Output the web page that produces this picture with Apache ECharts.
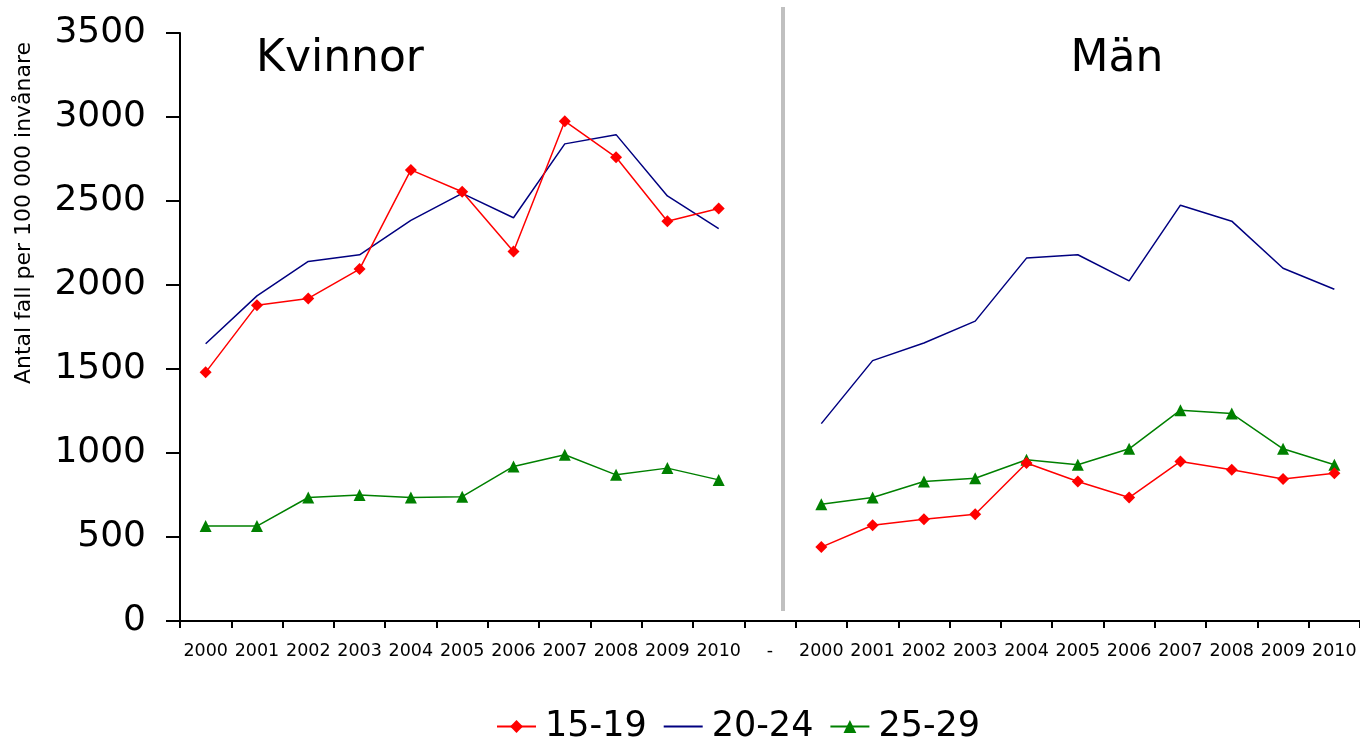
<!DOCTYPE html>
<html>
<head>
<meta charset="utf-8">
<script src="https://cdn.jsdelivr.net/npm/echarts@6/dist/echarts.min.js"></script>
<style>
    html, body { margin: 0; padding: 0; background: #fff; }
    #chart { width: 1360px; height: 739px; }
</style>
</head>
<body>
<div id="chart"></div>
<script>
    // år per panel, "-" är luckan mellan Kvinnor och Män
    var years = ['2000', '2001', '2002', '2003', '2004', '2005', '2006', '2007', '2008', '2009', '2010'];
    var categories = years.concat(['-'], years);

    var kvinnor1519 = [1480, 1880, 1920, 2095, 2685, 2555, 2200, 2975, 2760, 2380, 2455];
    var kvinnor2024 = [1650, 1935, 2140, 2180, 2385, 2545, 2400, 2840, 2895, 2530, 2335];
    var kvinnor2529 = [565, 565, 735, 750, 735, 740, 920, 990, 870, 910, 840];

    var man1519 = [440, 570, 605, 635, 940, 830, 735, 950, 900, 845, 880];
    var man2024 = [1175, 1550, 1655, 1785, 2160, 2180, 2025, 2475, 2380, 2100, 1975];
    var man2529 = [695, 735, 830, 850, 960, 930, 1025, 1255, 1235, 1025, 930];

    var yTicks = [0, 500, 1000, 1500, 2000, 2500, 3000, 3500];

    function join(k, m) {
        return k.concat([null], m);
    }

    var font = 'DejaVu Sans, Verdana, sans-serif';
    var myChart = echarts.init(document.getElementById('chart'));

    var option = {
        backgroundColor: '#fff',
        animation: false,
        grid: {
            left: 180,
            top: 33,
            width: 1182,
            height: 588
        },
        legend: {
            left: 491,
            top: 704,
            itemWidth: 39,
            itemHeight: 16,
            itemGap: 16,
            textStyle: {
                fontFamily: font,
                fontSize: 35,
                color: '#000',
                padding: [0, 0, 0, 4]
            },
            data: [
                '15-19',
                { name: '20-24', itemStyle: { opacity: 0 } },
                '25-29'
            ]
        },
        xAxis: {
            type: 'category',
            data: categories,
            boundaryGap: true,
            axisLine: { lineStyle: { color: '#000', width: 2 } },
            axisTick: { show: true, length: 7, lineStyle: { color: '#000', width: 2 } },
            axisLabel: {
                interval: 0,
                margin: 21,
                fontFamily: font,
                fontSize: 17.5,
                color: '#000'
            },
            splitLine: { show: false }
        },
        yAxis: {
            type: 'value',
            min: yTicks[0],
            max: yTicks[yTicks.length - 1],
            interval: 500,
            axisLine: { show: true, lineStyle: { color: '#000', width: 2 } },
            axisTick: { show: true, inside: false, length: 14, lineStyle: { color: '#000', width: 2 } },
            axisLabel: {
                margin: 34,
                fontFamily: font,
                fontSize: 36,
                color: '#000',
                formatter: function (v) { return String(v); }
            },
            splitLine: { show: false }
        },
        graphic: [
            {
                type: 'rect',
                shape: { x: 781, y: 7, width: 4, height: 604 },
                style: { fill: '#c0c0c0' },
                z: 0
            },
            {
                type: 'text',
                x: 340, y: 60,
                style: {
                    text: 'Kvinnor', fontFamily: font, fontSize: 44, fill: '#000',
                    textAlign: 'center', textVerticalAlign: 'middle'
                }
            },
            {
                type: 'text',
                x: 1117, y: 60,
                style: {
                    text: 'Män', fontFamily: font, fontSize: 44, fill: '#000',
                    textAlign: 'center', textVerticalAlign: 'middle'
                }
            },
            {
                type: 'text',
                x: 24, y: 213,
                rotation: Math.PI / 2,
                style: {
                    text: 'Antal fall per 100 000 invånare', fontFamily: font, fontSize: 22, fill: '#000',
                    textAlign: 'center', textVerticalAlign: 'middle'
                }
            }
        ],
        series: [
            {
                name: '15-19',
                type: 'line',
                data: join(kvinnor1519, man1519),
                color: '#ff0000',
                symbol: 'diamond',
                symbolSize: 12,
                showAllSymbol: true,
                lineStyle: { width: 1.5 },
                z: 3
            },
            {
                name: '20-24',
                type: 'line',
                data: join(kvinnor2024, man2024),
                color: '#000080',
                symbol: 'none',
                lineStyle: { width: 1.5 },
                z: 2
            },
            {
                name: '25-29',
                type: 'line',
                data: join(kvinnor2529, man2529),
                color: '#008000',
                symbol: 'triangle',
                symbolSize: 12,
                showAllSymbol: true,
                lineStyle: { width: 1.5 },
                z: 2
            }
        ]
    };

    myChart.setOption(option);

    // y-axelns streck, placerade via axelns egen skala
    var tickMarks = yTicks.map(function (v) {
        var p = myChart.convertToPixel({ gridIndex: 0 }, [0, v]);
        return {
            type: 'line',
            shape: { x1: 166, y1: p[1], x2: 180, y2: p[1] },
            style: { stroke: '#000', lineWidth: 2 },
            z: 10
        };
    });
    myChart.setOption({ graphic: option.graphic.concat(tickMarks) });
</script>
</body>
</html>
